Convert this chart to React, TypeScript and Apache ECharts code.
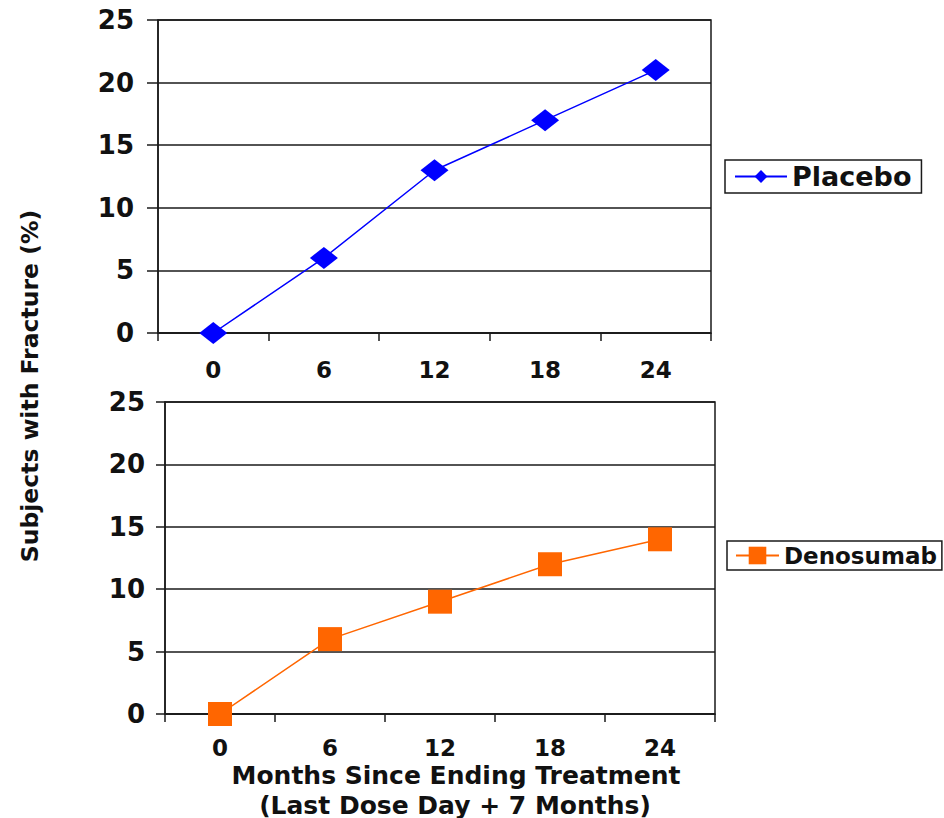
import React, { useEffect, useRef } from "react";
import * as echarts from "echarts";

// Months since ending treatment
const months = ["0", "6", "12", "18", "24"];
// Subjects with fracture (%) per group
const placebo = [0, 6, 13, 17, 21];
const denosumab = [0, 6, 9, 12, 14];
// Y axis ticks
const yMin = 0;
const yMax = 25;
const yStep = 5;

const FONT = "DejaVu Sans";
const INK = "#111111";
const RULE = "#1a1a1a";

function yAxisFor(gridIndex: number, margin: number, tick: number) {
  return {
    type: "value",
    gridIndex,
    min: yMin,
    max: yMax,
    interval: yStep,
    axisLine: { show: true, lineStyle: { color: RULE, width: 1.5 } },
    axisTick: { show: true, inside: false, length: tick, lineStyle: { color: RULE, width: 1.5 } },
    splitLine: { show: true, lineStyle: { color: RULE, width: 1.5 } },
    axisLabel: { color: INK, fontFamily: FONT, fontWeight: "bold", fontSize: 26, margin },
  };
}

function xAxisFor(gridIndex: number, margin: number) {
  return {
    type: "category",
    gridIndex,
    data: months,
    boundaryGap: true,
    axisLine: { show: true, lineStyle: { color: RULE, width: 1.5 } },
    axisTick: { show: true, alignWithLabel: false, length: 8, lineStyle: { color: RULE, width: 1.5 } },
    splitLine: { show: false },
    axisLabel: {
      color: INK,
      fontFamily: FONT,
      fontWeight: "bold",
      fontSize: 23,
      lineHeight: 16,
      margin,
    },
  };
}

export default function App() {
  const ref = useRef<HTMLDivElement>(null);

  useEffect(() => {
    if (!ref.current) return;
    const chart = echarts.init(ref.current, null, { renderer: "svg" });
    chart.setOption({
      animation: false,
      backgroundColor: "#ffffff",
      grid: [
        { left: 158, right: 233, top: 20, height: 313, show: true, borderColor: RULE, borderWidth: 1.5, backgroundColor: "transparent" },
        { left: 165, right: 229, top: 402, height: 312, show: true, borderColor: RULE, borderWidth: 1.5, backgroundColor: "transparent" },
      ],
      xAxis: [xAxisFor(0, 29), xAxisFor(1, 26)],
      yAxis: [yAxisFor(0, 24, 11), yAxisFor(1, 20, 9)],
      legend: [
        {
          data: ["Placebo"],
          left: 725,
          top: 160,
          orient: "vertical",
          itemWidth: 52,
          itemHeight: 16,
          padding: [3, 10, 3, 9],
          borderColor: RULE,
          borderWidth: 1.5,
          borderRadius: 0,
          textStyle: { color: INK, fontFamily: FONT, fontWeight: "bold", fontSize: 27 },
        },
        {
          data: ["Denosumab"],
          left: 727,
          top: 541,
          orient: "vertical",
          itemWidth: 43,
          itemHeight: 22,
          padding: [3, 5, 3, 8],
          borderColor: RULE,
          borderWidth: 1.5,
          borderRadius: 0,
          textStyle: { color: INK, fontFamily: FONT, fontWeight: "bold", fontSize: 23 },
        },
      ],
      series: [
        {
          name: "Placebo",
          type: "line",
          xAxisIndex: 0,
          yAxisIndex: 0,
          data: placebo,
          symbol: "diamond",
          symbolSize: [28, 22],
          showAllSymbol: true,
          lineStyle: { color: "#0000ff", width: 1.5 },
          itemStyle: { color: "#0000ff" },
        },
        {
          name: "Denosumab",
          type: "line",
          xAxisIndex: 1,
          yAxisIndex: 1,
          data: denosumab,
          symbol: "rect",
          symbolSize: 24,
          showAllSymbol: true,
          lineStyle: { color: "#ff6600", width: 1.5 },
          itemStyle: { color: "#ff6600" },
        },
      ],
      graphic: [
        {
          type: "text",
          x: 30,
          y: 386,
          rotation: Math.PI / 2,
          style: {
            text: "Subjects with Fracture (%)",
            fill: INK,
            font: `bold 23.5px "${FONT}"`,
            textAlign: "center",
            textVerticalAlign: "middle",
          },
        },
        {
          type: "text",
          x: 456,
          y: 775,
          style: {
            text: "Months Since Ending Treatment",
            fill: INK,
            font: `bold 25px "${FONT}"`,
            lineHeight: 20,
            textAlign: "center",
            textVerticalAlign: "middle",
          },
        },
        {
          type: "text",
          x: 455,
          y: 805,
          style: {
            text: "(Last Dose Day + 7 Months)",
            fill: INK,
            font: `bold 25px "${FONT}"`,
            lineHeight: 22,
            textAlign: "center",
            textVerticalAlign: "middle",
          },
        },
      ],
    });
    return () => chart.dispose();
  }, []);

  return (
    <div
      ref={ref}
      style={{ position: "absolute", left: 0, top: 0, width: 944, height: 818 }}
    />
  );
}
